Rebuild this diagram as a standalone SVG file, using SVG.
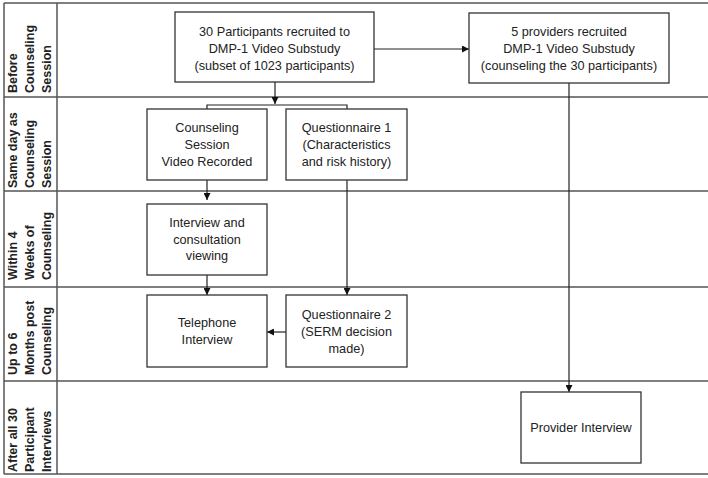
<svg xmlns="http://www.w3.org/2000/svg" width="708" height="478" viewBox="0 0 708 478">
<style>
.lane{stroke:#555;stroke-width:1.5;fill:none}
.box{fill:#fff;stroke:#333;stroke-width:1.3}
.t{font-family:"Liberation Sans",Arial,sans-serif;font-size:12.7px;fill:#222;text-anchor:middle}
.lbl{font-family:"Liberation Sans",Arial,sans-serif;font-size:12.5px;font-weight:bold;fill:#222}
.c{stroke:#222;stroke-width:1.2;fill:none}
</style>
<defs>
<marker id="ah" viewBox="0 0 10 10" refX="10" refY="5" markerWidth="7" markerHeight="7" markerUnits="userSpaceOnUse" orient="auto">
<path d="M0,0 L10,5 L0,10 z" fill="#111"/>
</marker>
</defs>
<rect width="708" height="478" fill="#fff"/>
<g id="lanes">
<line class="lane" x1="4" y1="3" x2="708" y2="3"/>
<line class="lane" x1="4" y1="97" x2="708" y2="97"/>
<line class="lane" x1="4" y1="191" x2="708" y2="191"/>
<line class="lane" x1="4" y1="287" x2="708" y2="287"/>
<line class="lane" x1="4" y1="381" x2="708" y2="381"/>
<line class="lane" x1="4" y1="474" x2="708" y2="474"/>
<line class="lane" x1="4" y1="3" x2="4" y2="474"/>
<line class="lane" x1="57" y1="3" x2="57" y2="474"/>
</g>
<g id="lane-labels">
<text class="lbl" transform="translate(0,93) rotate(-90)"><tspan x="0" y="16.5">Before</tspan><tspan x="0" y="33.5">Counseling</tspan><tspan x="0" y="50.5">Session</tspan></text>
<text class="lbl" transform="translate(0,188) rotate(-90)"><tspan x="0" y="16.5">Same day as</tspan><tspan x="0" y="33.5">Counseling</tspan><tspan x="0" y="50.5">Session</tspan></text>
<text class="lbl" transform="translate(0,280) rotate(-90)"><tspan x="0" y="16.5">Within 4</tspan><tspan x="0" y="33.5">Weeks of</tspan><tspan x="0" y="50.5">Counseling</tspan></text>
<text class="lbl" transform="translate(0,375) rotate(-90)"><tspan x="0" y="16.5">Up to 6</tspan><tspan x="0" y="33.5">Months post</tspan><tspan x="0" y="50.5">Counseling</tspan></text>
<text class="lbl" transform="translate(0,472) rotate(-90)"><tspan x="0" y="16.5">After all 30</tspan><tspan x="0" y="33.5">Participant</tspan><tspan x="0" y="50.5">Interviews</tspan></text>
</g>
<g id="connectors">
<line class="c" x1="374" y1="49" x2="469" y2="49" marker-end="url(#ah)"/>
<line class="c" x1="275" y1="82" x2="275" y2="104" marker-end="url(#ah)"/>
<polyline class="c" points="207,109 207,105 347,105 347,109"/>
<line class="c" x1="207" y1="180" x2="207" y2="200" marker-end="url(#ah)"/>
<line class="c" x1="207" y1="275" x2="207" y2="295" marker-end="url(#ah)"/>
<line class="c" x1="347" y1="180" x2="347" y2="295" marker-end="url(#ah)"/>
<line class="c" x1="286" y1="332" x2="267" y2="332" marker-end="url(#ah)"/>
<line class="c" x1="569" y1="83" x2="569" y2="392" marker-end="url(#ah)"/>
</g>
<g id="n1"><rect class="box" x="175" y="12" width="199" height="70"/>
<text class="t"><tspan x="274.5" y="36">30 Participants recruited to</tspan><tspan x="274.5" y="53">DMP-1 Video Substudy</tspan><tspan x="274.5" y="70">(subset of 1023 participants)</tspan></text></g>
<g id="n2"><rect class="box" x="469" y="13" width="200" height="70"/>
<text class="t"><tspan x="569" y="36">5 providers recruited</tspan><tspan x="569" y="53">DMP-1 Video Substudy</tspan><tspan x="569" y="70">(counseling the 30 participants)</tspan></text></g>
<g id="n3"><rect class="box" x="147" y="109" width="120" height="71"/>
<text class="t"><tspan x="207" y="132">Counseling</tspan><tspan x="207" y="149">Session</tspan><tspan x="207" y="166">Video Recorded</tspan></text></g>
<g id="n4"><rect class="box" x="286" y="109" width="121" height="71"/>
<text class="t"><tspan x="346.5" y="132">Questionnaire 1</tspan><tspan x="346.5" y="149">(Characteristics</tspan><tspan x="346.5" y="166">and risk history)</tspan></text></g>
<g id="n5"><rect class="box" x="147" y="204" width="120" height="71"/>
<text class="t"><tspan x="207" y="227">Interview and</tspan><tspan x="207" y="244">consultation</tspan><tspan x="207" y="260">viewing</tspan></text></g>
<g id="n6"><rect class="box" x="147" y="295" width="120" height="72"/>
<text class="t"><tspan x="207" y="327">Telephone</tspan><tspan x="207" y="344">Interview</tspan></text></g>
<g id="n7"><rect class="box" x="286" y="295" width="121" height="72"/>
<text class="t"><tspan x="346.5" y="319">Questionnaire 2</tspan><tspan x="346.5" y="336">(SERM decision</tspan><tspan x="346.5" y="353">made)</tspan></text></g>
<g id="n8"><rect class="box" x="521" y="392" width="120" height="71"/>
<text class="t"><tspan x="581" y="432">Provider Interview</tspan></text></g>
</svg>
